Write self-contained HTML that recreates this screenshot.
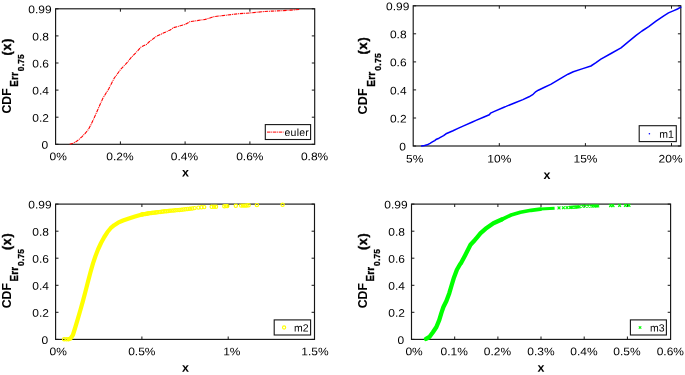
<!DOCTYPE html>
<html><head><meta charset="utf-8"><title>CDF plots</title>
<style>
html,body{margin:0;padding:0;background:#fff;}
svg{display:block;}
text{font-family:"Liberation Sans",sans-serif;fill:#000;}
.t{font-size:11px;}
.b{font-weight:bold;}
</style></head><body>
<svg width="685" height="375" viewBox="0 0 685 375">
<rect width="685" height="375" fill="#fff"/>

<rect x="55.6" y="8.8" width="259.1" height="135.5" fill="none" stroke="#161616" stroke-width="1.15"/>
<text class="t" transform="translate(58.2,160.25) rotate(0.05) scale(1.09,1)" text-anchor="middle">0%</text>
<path d="M120.4 144.3v-2.9M120.4 8.8v2.9" stroke="#161616" stroke-width="1" fill="none"/>
<text class="t" transform="translate(119.9,160.25) rotate(0.05) scale(1.09,1)" text-anchor="middle">0.2%</text>
<path d="M185.1 144.3v-2.9M185.1 8.8v2.9" stroke="#161616" stroke-width="1" fill="none"/>
<text class="t" transform="translate(184.4,160.25) rotate(0.05) scale(1.09,1)" text-anchor="middle">0.4%</text>
<path d="M249.9 144.3v-2.9M249.9 8.8v2.9" stroke="#161616" stroke-width="1" fill="none"/>
<text class="t" transform="translate(249.8,160.25) rotate(0.05) scale(1.09,1)" text-anchor="middle">0.6%</text>
<text class="t" transform="translate(314.6,160.25) rotate(0.05) scale(1.09,1)" text-anchor="middle">0.8%</text>
<path d="M55.6 144.3h2.9M314.7 144.3h-2.9" stroke="#161616" stroke-width="1" fill="none"/>
<text class="t" transform="translate(48.3,148.80) rotate(0.05) scale(1.09,1)" text-anchor="end">0</text>
<path d="M55.6 117.2h2.9M314.7 117.2h-2.9" stroke="#161616" stroke-width="1" fill="none"/>
<text class="t" transform="translate(49.0,121.70) rotate(0.05) scale(1.09,1)" text-anchor="end">0.2</text>
<path d="M55.6 90.1h2.9M314.7 90.1h-2.9" stroke="#161616" stroke-width="1" fill="none"/>
<text class="t" transform="translate(49.0,94.60) rotate(0.05) scale(1.09,1)" text-anchor="end">0.4</text>
<path d="M55.6 63.0h2.9M314.7 63.0h-2.9" stroke="#161616" stroke-width="1" fill="none"/>
<text class="t" transform="translate(49.0,67.50) rotate(0.05) scale(1.09,1)" text-anchor="end">0.6</text>
<path d="M55.6 35.9h2.9M314.7 35.9h-2.9" stroke="#161616" stroke-width="1" fill="none"/>
<text class="t" transform="translate(49.0,40.40) rotate(0.05) scale(1.09,1)" text-anchor="end">0.8</text>
<path d="M55.6 8.8h2.9M314.7 8.8h-2.9" stroke="#161616" stroke-width="1" fill="none"/>
<text class="t" transform="translate(51.7,13.30) rotate(0.05) scale(1.09,1)" text-anchor="end">0.99</text>
<text class="b" font-size="12.5" transform="translate(185.5,176.6) rotate(0.05)" text-anchor="middle">x</text>
<text class="b" font-size="12.30" transform="translate(11.2,113.6) rotate(-90) scale(1,1.06)">CDF</text>
<text class="b" font-size="9.70" letter-spacing="0.25" stroke="#000" stroke-width="0.3" transform="translate(18.1,86.7) rotate(-90) scale(1,1.15)">Err</text>
<text class="b" font-size="8.40" letter-spacing="0.2" stroke="#000" stroke-width="0.3" transform="translate(24.3,71.2) rotate(-90) scale(1,1.04)">0.75</text>
<text class="b" font-size="12.30" letter-spacing="0.85" stroke="#000" stroke-width="0.4" transform="translate(11.2,55.4) rotate(-90) scale(1,1.03)">(x)</text>
<polyline points="69.7,144.2 73.0,143.2 76.4,141.5 79.5,139.0 82.4,136.3 85.5,133.0 88.4,129.5 90.8,125.0 93.2,120.0 95.6,114.6 98.0,109.2 100.4,103.8 102.8,98.4 105.8,93.5 108.8,88.8 111.5,83.4 114.3,78.0 117.3,74.0 120.5,69.5 126.4,63.4 131.7,56.9 137.5,51.1 141.1,47.0 146.9,44.3 149.3,41.7 156.3,36.4 163.3,33.1 170.2,30.0 173.3,27.7 185.2,24.4 189.9,21.7 205.2,19.4 214.6,16.5 226.3,15.2 238.0,13.8 250.0,12.9 263.3,11.6 272.0,11.1 281.7,10.7 291.0,10.1 300.0,9.5" fill="none" stroke="#ff0000" stroke-width="1.1" stroke-dasharray="3.6 0.8 1 0.8" stroke-linejoin="round"/>
<rect x="265.3" y="124.6" width="45.3" height="14.9" fill="#fff" stroke="#161616" stroke-width="1.1"/>
<path d="M267 132.1h16.6" stroke="#ff0000" stroke-width="1" stroke-dasharray="3.5 0.7 1 0.7" fill="none"/>
<text font-size="10.5" letter-spacing="0.25" transform="translate(309.1,136.05) rotate(0.05)" text-anchor="end">euler</text>
<rect x="413.2" y="5.8" width="267.6" height="140.2" fill="none" stroke="#161616" stroke-width="1.15"/>
<text class="t" transform="translate(414.7,162.45) rotate(0.05) scale(1.09,1)" text-anchor="middle">5%</text>
<path d="M499.3 146.0v-2.9M499.3 5.8v2.9" stroke="#161616" stroke-width="1" fill="none"/>
<text class="t" transform="translate(499.3,162.45) rotate(0.05) scale(1.09,1)" text-anchor="middle">10%</text>
<path d="M585.4 146.0v-2.9M585.4 5.8v2.9" stroke="#161616" stroke-width="1" fill="none"/>
<text class="t" transform="translate(585.5,162.45) rotate(0.05) scale(1.09,1)" text-anchor="middle">15%</text>
<path d="M671.5 146.0v-2.9M671.5 5.8v2.9" stroke="#161616" stroke-width="1" fill="none"/>
<text class="t" transform="translate(670.6,162.45) rotate(0.05) scale(1.09,1)" text-anchor="middle">20%</text>
<path d="M413.2 146.0h2.9M680.8 146.0h-2.9" stroke="#161616" stroke-width="1" fill="none"/>
<text class="t" transform="translate(405.9,150.50) rotate(0.05) scale(1.09,1)" text-anchor="end">0</text>
<path d="M413.2 118.0h2.9M680.8 118.0h-2.9" stroke="#161616" stroke-width="1" fill="none"/>
<text class="t" transform="translate(406.6,122.46) rotate(0.05) scale(1.09,1)" text-anchor="end">0.2</text>
<path d="M413.2 89.9h2.9M680.8 89.9h-2.9" stroke="#161616" stroke-width="1" fill="none"/>
<text class="t" transform="translate(406.6,94.42) rotate(0.05) scale(1.09,1)" text-anchor="end">0.4</text>
<path d="M413.2 61.9h2.9M680.8 61.9h-2.9" stroke="#161616" stroke-width="1" fill="none"/>
<text class="t" transform="translate(406.6,66.38) rotate(0.05) scale(1.09,1)" text-anchor="end">0.6</text>
<path d="M413.2 33.8h2.9M680.8 33.8h-2.9" stroke="#161616" stroke-width="1" fill="none"/>
<text class="t" transform="translate(406.6,38.34) rotate(0.05) scale(1.09,1)" text-anchor="end">0.8</text>
<path d="M413.2 5.8h2.9M680.8 5.8h-2.9" stroke="#161616" stroke-width="1" fill="none"/>
<text class="t" transform="translate(409.3,10.30) rotate(0.05) scale(1.09,1)" text-anchor="end">0.99</text>
<text class="b" font-size="12.5" transform="translate(546.9,179.1) rotate(0.05)" text-anchor="middle">x</text>
<text class="b" font-size="12.67" transform="translate(367.4,114.4) rotate(-90) scale(1,1.06)">CDF</text>
<text class="b" font-size="9.99" letter-spacing="0.25" stroke="#000" stroke-width="0.3" transform="translate(374.5,86.7) rotate(-90) scale(1,1.15)">Err</text>
<text class="b" font-size="8.65" letter-spacing="0.2" stroke="#000" stroke-width="0.3" transform="translate(380.9,70.7) rotate(-90) scale(1,1.04)">0.75</text>
<text class="b" font-size="12.67" letter-spacing="0.85" stroke="#000" stroke-width="0.4" transform="translate(367.4,54.5) rotate(-90) scale(1,1.03)">(x)</text>
<polyline points="421.6,145.9 424.5,145.5 427.2,144.8 430.0,143.3 432.8,141.7 434.7,140.6 436.5,139.2 439.0,138.2 443.6,135.6 446.0,133.8 453.0,130.8 458.0,128.4 463.6,125.9 472.4,122.0 476.0,120.4 484.0,117.0 489.3,114.8 490.5,113.2 491.7,112.6 493.8,111.6 504.0,107.2 506.1,106.4 515.1,102.7 522.9,99.6 529.0,96.8 533.1,94.3 535.2,92.2 538.3,90.2 544.0,87.5 550.7,84.4 557.0,80.6 563.3,76.8 568.0,74.2 573.3,71.8 582.0,68.9 590.9,66.0 596.0,62.7 600.9,59.2 611.0,53.5 621.0,47.9 628.5,41.7 636.1,35.4 642.0,31.0 648.7,26.6 656.0,21.2 663.8,15.8 668.5,12.9 673.8,10.6 677.5,9.0 680.8,7.2" fill="none" stroke="#0000ff" stroke-width="1.5" stroke-linejoin="round" stroke-linecap="round"/>
<rect x="639.2" y="125.7" width="37.1" height="15.9" fill="#fff" stroke="#161616" stroke-width="1.1"/>
<circle cx="649.4" cy="133.7" r="0.8" fill="#0000ff"/>
<text font-size="10.5" letter-spacing="0" transform="translate(673.9,137.65) rotate(0.05)" text-anchor="end">m1</text>
<rect x="55.6" y="204.1" width="258.9" height="135.3" fill="none" stroke="#161616" stroke-width="1.15"/>
<text class="t" transform="translate(58.2,355.15) rotate(0.05) scale(1.09,1)" text-anchor="middle">0%</text>
<path d="M141.9 339.4v-2.9M141.9 204.1v2.9" stroke="#161616" stroke-width="1" fill="none"/>
<text class="t" transform="translate(141.8,355.15) rotate(0.05) scale(1.09,1)" text-anchor="middle">0.5%</text>
<path d="M228.2 339.4v-2.9M228.2 204.1v2.9" stroke="#161616" stroke-width="1" fill="none"/>
<text class="t" transform="translate(231.8,355.15) rotate(0.05) scale(1.09,1)" text-anchor="middle">1%</text>
<text class="t" transform="translate(314.9,355.15) rotate(0.05) scale(1.09,1)" text-anchor="middle">1.5%</text>
<path d="M55.6 339.4h2.9M314.5 339.4h-2.9" stroke="#161616" stroke-width="1" fill="none"/>
<text class="t" transform="translate(48.3,343.90) rotate(0.05) scale(1.09,1)" text-anchor="end">0</text>
<path d="M55.6 312.3h2.9M314.5 312.3h-2.9" stroke="#161616" stroke-width="1" fill="none"/>
<text class="t" transform="translate(49.0,316.84) rotate(0.05) scale(1.09,1)" text-anchor="end">0.2</text>
<path d="M55.6 285.3h2.9M314.5 285.3h-2.9" stroke="#161616" stroke-width="1" fill="none"/>
<text class="t" transform="translate(49.0,289.78) rotate(0.05) scale(1.09,1)" text-anchor="end">0.4</text>
<path d="M55.6 258.2h2.9M314.5 258.2h-2.9" stroke="#161616" stroke-width="1" fill="none"/>
<text class="t" transform="translate(49.0,262.72) rotate(0.05) scale(1.09,1)" text-anchor="end">0.6</text>
<path d="M55.6 231.2h2.9M314.5 231.2h-2.9" stroke="#161616" stroke-width="1" fill="none"/>
<text class="t" transform="translate(49.0,235.66) rotate(0.05) scale(1.09,1)" text-anchor="end">0.8</text>
<path d="M55.6 204.1h2.9M314.5 204.1h-2.9" stroke="#161616" stroke-width="1" fill="none"/>
<text class="t" transform="translate(51.7,208.60) rotate(0.05) scale(1.09,1)" text-anchor="end">0.99</text>
<text class="b" font-size="12.5" transform="translate(185.5,371.7) rotate(0.05)" text-anchor="middle">x</text>
<text class="b" font-size="12.30" transform="translate(11.2,308.3) rotate(-90) scale(1,1.06)">CDF</text>
<text class="b" font-size="9.70" letter-spacing="0.25" stroke="#000" stroke-width="0.3" transform="translate(18.1,281.4) rotate(-90) scale(1,1.15)">Err</text>
<text class="b" font-size="8.40" letter-spacing="0.2" stroke="#000" stroke-width="0.3" transform="translate(24.3,265.9) rotate(-90) scale(1,1.04)">0.75</text>
<text class="b" font-size="12.30" letter-spacing="0.85" stroke="#000" stroke-width="0.4" transform="translate(11.2,250.1) rotate(-90) scale(1,1.03)">(x)</text>
<polyline points="68.5,339.3 70.5,338.5 72.9,335.0 75.4,327.0 77.9,318.7 80.4,310.0 82.9,301.1 85.4,291.7 87.9,282.0 90.4,272.5 93.0,263.4 95.5,256.0 98.0,249.5 101.0,243.0 104.3,237.0 107.3,232.3 110.6,228.2 114.2,225.2 118.1,222.7 123.0,220.5 128.1,218.7 135.0,216.5 142.0,214.4" fill="none" stroke="#ffff00" stroke-width="4.2" stroke-linejoin="round" stroke-linecap="round"/>
<circle cx="142.0" cy="214.4" r="1.65" fill="none" stroke="#ffff00" stroke-width="1.15"/>
<circle cx="143.1" cy="214.2" r="1.65" fill="none" stroke="#ffff00" stroke-width="1.15"/>
<circle cx="144.2" cy="214.1" r="1.65" fill="none" stroke="#ffff00" stroke-width="1.15"/>
<circle cx="145.4" cy="213.9" r="1.65" fill="none" stroke="#ffff00" stroke-width="1.15"/>
<circle cx="146.6" cy="213.7" r="1.65" fill="none" stroke="#ffff00" stroke-width="1.15"/>
<circle cx="147.8" cy="213.5" r="1.65" fill="none" stroke="#ffff00" stroke-width="1.15"/>
<circle cx="149.0" cy="213.3" r="1.65" fill="none" stroke="#ffff00" stroke-width="1.15"/>
<circle cx="150.3" cy="213.1" r="1.65" fill="none" stroke="#ffff00" stroke-width="1.15"/>
<circle cx="151.6" cy="213.0" r="1.65" fill="none" stroke="#ffff00" stroke-width="1.15"/>
<circle cx="152.9" cy="212.8" r="1.65" fill="none" stroke="#ffff00" stroke-width="1.15"/>
<circle cx="154.3" cy="212.6" r="1.65" fill="none" stroke="#ffff00" stroke-width="1.15"/>
<circle cx="155.7" cy="212.4" r="1.65" fill="none" stroke="#ffff00" stroke-width="1.15"/>
<circle cx="157.1" cy="212.2" r="1.65" fill="none" stroke="#ffff00" stroke-width="1.15"/>
<circle cx="158.6" cy="212.1" r="1.65" fill="none" stroke="#ffff00" stroke-width="1.15"/>
<circle cx="160.1" cy="211.9" r="1.65" fill="none" stroke="#ffff00" stroke-width="1.15"/>
<circle cx="161.7" cy="211.7" r="1.65" fill="none" stroke="#ffff00" stroke-width="1.15"/>
<circle cx="163.2" cy="211.5" r="1.65" fill="none" stroke="#ffff00" stroke-width="1.15"/>
<circle cx="164.9" cy="211.3" r="1.65" fill="none" stroke="#ffff00" stroke-width="1.15"/>
<circle cx="166.5" cy="211.2" r="1.65" fill="none" stroke="#ffff00" stroke-width="1.15"/>
<circle cx="168.2" cy="211.0" r="1.65" fill="none" stroke="#ffff00" stroke-width="1.15"/>
<circle cx="170.0" cy="210.8" r="1.65" fill="none" stroke="#ffff00" stroke-width="1.15"/>
<circle cx="171.8" cy="210.6" r="1.65" fill="none" stroke="#ffff00" stroke-width="1.15"/>
<circle cx="173.6" cy="210.5" r="1.65" fill="none" stroke="#ffff00" stroke-width="1.15"/>
<circle cx="175.5" cy="210.3" r="1.65" fill="none" stroke="#ffff00" stroke-width="1.15"/>
<circle cx="177.4" cy="210.1" r="1.65" fill="none" stroke="#ffff00" stroke-width="1.15"/>
<circle cx="179.3" cy="209.9" r="1.65" fill="none" stroke="#ffff00" stroke-width="1.15"/>
<circle cx="181.4" cy="209.7" r="1.65" fill="none" stroke="#ffff00" stroke-width="1.15"/>
<circle cx="183.4" cy="209.4" r="1.65" fill="none" stroke="#ffff00" stroke-width="1.15"/>
<circle cx="185.5" cy="209.2" r="1.65" fill="none" stroke="#ffff00" stroke-width="1.15"/>
<circle cx="187.7" cy="208.9" r="1.65" fill="none" stroke="#ffff00" stroke-width="1.15"/>
<circle cx="189.9" cy="208.7" r="1.65" fill="none" stroke="#ffff00" stroke-width="1.15"/>
<circle cx="192.2" cy="208.4" r="1.65" fill="none" stroke="#ffff00" stroke-width="1.15"/>
<circle cx="194.5" cy="208.1" r="1.65" fill="none" stroke="#ffff00" stroke-width="1.15"/>
<circle cx="64.1" cy="339.3" r="1.65" fill="none" stroke="#ffff00" stroke-width="1.15"/>
<circle cx="66.5" cy="339.3" r="1.65" fill="none" stroke="#ffff00" stroke-width="1.15"/>
<circle cx="198.4" cy="207.6" r="1.65" fill="none" stroke="#ffff00" stroke-width="1.15"/>
<circle cx="201.4" cy="207.3" r="1.65" fill="none" stroke="#ffff00" stroke-width="1.15"/>
<circle cx="204.2" cy="207.1" r="1.65" fill="none" stroke="#ffff00" stroke-width="1.15"/>
<circle cx="211.7" cy="206.8" r="1.65" fill="none" stroke="#ffff00" stroke-width="1.15"/>
<circle cx="214" cy="206.8" r="1.65" fill="none" stroke="#ffff00" stroke-width="1.15"/>
<circle cx="216" cy="206.8" r="1.65" fill="none" stroke="#ffff00" stroke-width="1.15"/>
<circle cx="224.3" cy="206.3" r="1.65" fill="none" stroke="#ffff00" stroke-width="1.15"/>
<circle cx="226" cy="206.1" r="1.65" fill="none" stroke="#ffff00" stroke-width="1.15"/>
<circle cx="227.3" cy="206.1" r="1.65" fill="none" stroke="#ffff00" stroke-width="1.15"/>
<circle cx="235.8" cy="205.8" r="1.65" fill="none" stroke="#ffff00" stroke-width="1.15"/>
<circle cx="241.1" cy="205.6" r="1.65" fill="none" stroke="#ffff00" stroke-width="1.15"/>
<circle cx="243.1" cy="205.6" r="1.65" fill="none" stroke="#ffff00" stroke-width="1.15"/>
<circle cx="244.9" cy="205.6" r="1.65" fill="none" stroke="#ffff00" stroke-width="1.15"/>
<circle cx="246.6" cy="205.5" r="1.65" fill="none" stroke="#ffff00" stroke-width="1.15"/>
<circle cx="248.6" cy="205.3" r="1.65" fill="none" stroke="#ffff00" stroke-width="1.15"/>
<circle cx="256.9" cy="205.1" r="1.65" fill="none" stroke="#ffff00" stroke-width="1.15"/>
<circle cx="282.6" cy="204.8" r="1.65" fill="none" stroke="#ffff00" stroke-width="1.15"/>
<rect x="274.2" y="319.9" width="36.4" height="15.1" fill="#fff" stroke="#161616" stroke-width="1.1"/>
<circle cx="284.1" cy="327.5" r="1.6" fill="none" stroke="#ffff00" stroke-width="1.1"/>
<text font-size="10.5" letter-spacing="0" transform="translate(308.6,331.45) rotate(0.05)" text-anchor="end">m2</text>
<rect x="411.5" y="204.1" width="259.1" height="135.3" fill="none" stroke="#161616" stroke-width="1.15"/>
<text class="t" transform="translate(414.1,355.15) rotate(0.05) scale(1.09,1)" text-anchor="middle">0%</text>
<path d="M454.7 339.4v-2.9M454.7 204.1v2.9" stroke="#161616" stroke-width="1" fill="none"/>
<text class="t" transform="translate(454.2,355.15) rotate(0.05) scale(1.09,1)" text-anchor="middle">0.1%</text>
<path d="M497.9 339.4v-2.9M497.9 204.1v2.9" stroke="#161616" stroke-width="1" fill="none"/>
<text class="t" transform="translate(497.5,355.15) rotate(0.05) scale(1.09,1)" text-anchor="middle">0.2%</text>
<path d="M541.0 339.4v-2.9M541.0 204.1v2.9" stroke="#161616" stroke-width="1" fill="none"/>
<text class="t" transform="translate(540.9,355.15) rotate(0.05) scale(1.09,1)" text-anchor="middle">0.3%</text>
<path d="M584.2 339.4v-2.9M584.2 204.1v2.9" stroke="#161616" stroke-width="1" fill="none"/>
<text class="t" transform="translate(583.9,355.15) rotate(0.05) scale(1.09,1)" text-anchor="middle">0.4%</text>
<path d="M627.4 339.4v-2.9M627.4 204.1v2.9" stroke="#161616" stroke-width="1" fill="none"/>
<text class="t" transform="translate(627.0,355.15) rotate(0.05) scale(1.09,1)" text-anchor="middle">0.5%</text>
<text class="t" transform="translate(670.3,355.15) rotate(0.05) scale(1.09,1)" text-anchor="middle">0.6%</text>
<path d="M411.5 339.4h2.9M670.6 339.4h-2.9" stroke="#161616" stroke-width="1" fill="none"/>
<text class="t" transform="translate(404.2,343.90) rotate(0.05) scale(1.09,1)" text-anchor="end">0</text>
<path d="M411.5 312.3h2.9M670.6 312.3h-2.9" stroke="#161616" stroke-width="1" fill="none"/>
<text class="t" transform="translate(404.9,316.84) rotate(0.05) scale(1.09,1)" text-anchor="end">0.2</text>
<path d="M411.5 285.3h2.9M670.6 285.3h-2.9" stroke="#161616" stroke-width="1" fill="none"/>
<text class="t" transform="translate(404.9,289.78) rotate(0.05) scale(1.09,1)" text-anchor="end">0.4</text>
<path d="M411.5 258.2h2.9M670.6 258.2h-2.9" stroke="#161616" stroke-width="1" fill="none"/>
<text class="t" transform="translate(404.9,262.72) rotate(0.05) scale(1.09,1)" text-anchor="end">0.6</text>
<path d="M411.5 231.2h2.9M670.6 231.2h-2.9" stroke="#161616" stroke-width="1" fill="none"/>
<text class="t" transform="translate(404.9,235.66) rotate(0.05) scale(1.09,1)" text-anchor="end">0.8</text>
<path d="M411.5 204.1h2.9M670.6 204.1h-2.9" stroke="#161616" stroke-width="1" fill="none"/>
<text class="t" transform="translate(407.6,208.60) rotate(0.05) scale(1.09,1)" text-anchor="end">0.99</text>
<text class="b" font-size="12.5" transform="translate(541,371.7) rotate(0.05)" text-anchor="middle">x</text>
<text class="b" font-size="12.30" transform="translate(367.3,308.3) rotate(-90) scale(1,1.06)">CDF</text>
<text class="b" font-size="9.70" letter-spacing="0.25" stroke="#000" stroke-width="0.3" transform="translate(374.2,281.4) rotate(-90) scale(1,1.15)">Err</text>
<text class="b" font-size="8.40" letter-spacing="0.2" stroke="#000" stroke-width="0.3" transform="translate(380.4,265.9) rotate(-90) scale(1,1.04)">0.75</text>
<text class="b" font-size="12.30" letter-spacing="0.85" stroke="#000" stroke-width="0.4" transform="translate(367.3,250.1) rotate(-90) scale(1,1.03)">(x)</text>
<polyline points="426.0,338.9 429.4,337.0 432.9,332.3 436.4,327.0 439.3,319.9 441.4,312.9 443.4,307.0 446.4,301.0 449.3,293.2 451.7,285.0 454.0,277.4 456.9,269.7 459.9,264.5 461.3,262.6 465.2,255.2 470.5,244.8 474.7,240.2 476.9,237.6 480.6,233.2 485.5,228.8 493.4,223.3 501.7,219.5" fill="none" stroke="#00ff00" stroke-width="4.3" stroke-linejoin="round" stroke-linecap="round"/>
<polyline points="501.7,219.5 511.1,215.0 520.4,212.3 531.0,210.3 540.4,209.1" fill="none" stroke="#00ff00" stroke-width="3.7" stroke-linejoin="round" stroke-linecap="round"/>
<polyline points="540.4,209.1 549.8,208.5 554.6,208.2" fill="none" stroke="#00ff00" stroke-width="3" stroke-linejoin="round" stroke-linecap="butt"/>
<path d="M557.6 206.5l2.8 2.8m0 -2.8l-2.8 2.8" stroke="#00ff00" stroke-width="1.1" fill="none"/>
<path d="M562.0 206.3l2.8 2.8m0 -2.8l-2.8 2.8" stroke="#00ff00" stroke-width="1.1" fill="none"/>
<path d="M565.6 206.2l2.8 2.8m0 -2.8l-2.8 2.8" stroke="#00ff00" stroke-width="1.1" fill="none"/>
<path d="M568.9 206.0l2.8 2.8m0 -2.8l-2.8 2.8" stroke="#00ff00" stroke-width="1.1" fill="none"/>
<path d="M570.2 205.9l2.8 2.8m0 -2.8l-2.8 2.8" stroke="#00ff00" stroke-width="1.1" fill="none"/>
<path d="M571.5 205.8l2.8 2.8m0 -2.8l-2.8 2.8" stroke="#00ff00" stroke-width="1.1" fill="none"/>
<path d="M572.8 205.7l2.8 2.8m0 -2.8l-2.8 2.8" stroke="#00ff00" stroke-width="1.1" fill="none"/>
<path d="M574.1 205.7l2.8 2.8m0 -2.8l-2.8 2.8" stroke="#00ff00" stroke-width="1.1" fill="none"/>
<path d="M575.4 205.6l2.8 2.8m0 -2.8l-2.8 2.8" stroke="#00ff00" stroke-width="1.1" fill="none"/>
<path d="M576.7 205.5l2.8 2.8m0 -2.8l-2.8 2.8" stroke="#00ff00" stroke-width="1.1" fill="none"/>
<path d="M578.0 205.4l2.8 2.8m0 -2.8l-2.8 2.8" stroke="#00ff00" stroke-width="1.1" fill="none"/>
<path d="M581.2 204.7l2.8 2.8m0 -2.8l-2.8 2.8" stroke="#00ff00" stroke-width="1.1" fill="none"/>
<path d="M584.0 204.7l2.8 2.8m0 -2.8l-2.8 2.8" stroke="#00ff00" stroke-width="1.1" fill="none"/>
<path d="M586.8 204.7l2.8 2.8m0 -2.8l-2.8 2.8" stroke="#00ff00" stroke-width="1.1" fill="none"/>
<path d="M589.6 204.7l2.8 2.8m0 -2.8l-2.8 2.8" stroke="#00ff00" stroke-width="1.1" fill="none"/>
<path d="M591.6 204.6l2.8 2.8m0 -2.8l-2.8 2.8" stroke="#00ff00" stroke-width="1.1" fill="none"/>
<path d="M593.2 204.6l2.8 2.8m0 -2.8l-2.8 2.8" stroke="#00ff00" stroke-width="1.1" fill="none"/>
<path d="M594.8 204.6l2.8 2.8m0 -2.8l-2.8 2.8" stroke="#00ff00" stroke-width="1.1" fill="none"/>
<path d="M596.4 204.6l2.8 2.8m0 -2.8l-2.8 2.8" stroke="#00ff00" stroke-width="1.1" fill="none"/>
<path d="M609.2 204.2l2.8 2.8m0 -2.8l-2.8 2.8" stroke="#00ff00" stroke-width="1.1" fill="none"/>
<path d="M611.6 204.2l2.8 2.8m0 -2.8l-2.8 2.8" stroke="#00ff00" stroke-width="1.1" fill="none"/>
<path d="M618.2 204.0l2.8 2.8m0 -2.8l-2.8 2.8" stroke="#00ff00" stroke-width="1.1" fill="none"/>
<path d="M624.0 204.0l2.8 2.8m0 -2.8l-2.8 2.8" stroke="#00ff00" stroke-width="1.1" fill="none"/>
<path d="M627.6 204.0l2.8 2.8m0 -2.8l-2.8 2.8" stroke="#00ff00" stroke-width="1.1" fill="none"/>
<rect x="630.4" y="319.9" width="36.0" height="15.1" fill="#fff" stroke="#161616" stroke-width="1.1"/>
<path d="M638.8 326.3l2.5 2.4m0 -2.4l-2.5 2.4" stroke="#00ff00" stroke-width="1.1" fill="none"/>
<text font-size="10.5" letter-spacing="0" transform="translate(664.5,331.45) rotate(0.05)" text-anchor="end">m3</text>
</svg>
</body></html>
